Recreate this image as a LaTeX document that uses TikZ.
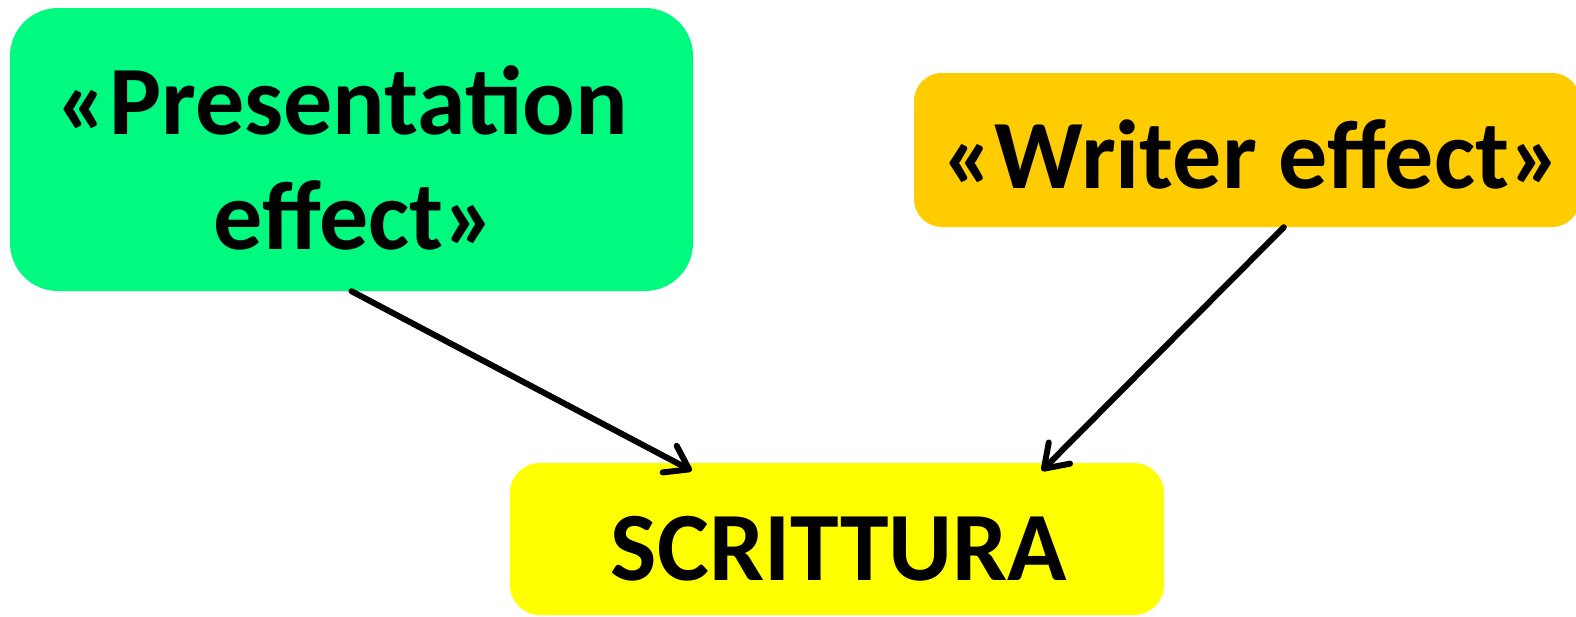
\documentclass[tikz,border=0pt]{standalone}
\usepackage{fontspec}
\setmainfont{Carlito}
\usetikzlibrary{arrows.meta,calc}
\definecolor{cgreen}{HTML}{00FA80}
\definecolor{corange}{HTML}{FFCC00}
\definecolor{cyellow}{HTML}{FFFF00}
\begin{document}
\begin{tikzpicture}[x=1pt,y=-1pt,
  box/.style={rounded corners=#1, inner sep=0pt},
  lbl/.style={font=\fontsize{98}{115}\selectfont\bfseries, align=center, inner sep=0pt},
  conn/.style={line width=6pt, line cap=round, -{Straight Barb[length=22pt,width=30pt,round]}}]
\useasboundingbox (0,0) rectangle (1576,616);
\node[box=48pt, fill=cgreen, minimum width=683pt, minimum height=283pt] (g) at (351.5,149.5) {};
\node[lbl] (gt) at (342,158) {«Presentation\\\hspace*{26pt}effect»};
\node[box=28pt, fill=corange, minimum width=666pt, minimum height=154pt] (o) at (1247,150) {};
\node[lbl] (ot) at (1252,154) {«Writer effect»};
\node[box=30pt, fill=cyellow, minimum width=654pt, minimum height=152pt] (y) at (837,539) {};
\node[lbl] (yt) at (839,549) {SCRITTURA};
\coordinate (a1) at ($(y.north west)+(182,8)$);
\coordinate (s2) at ($(o.south west)+(370,0)$);
\coordinate (a2) at ($(y.north west)+(532,8)$);
\draw[conn] (g.south) -- (a1);
\draw[conn] (s2) -- (a2);
\end{tikzpicture}
\end{document}
